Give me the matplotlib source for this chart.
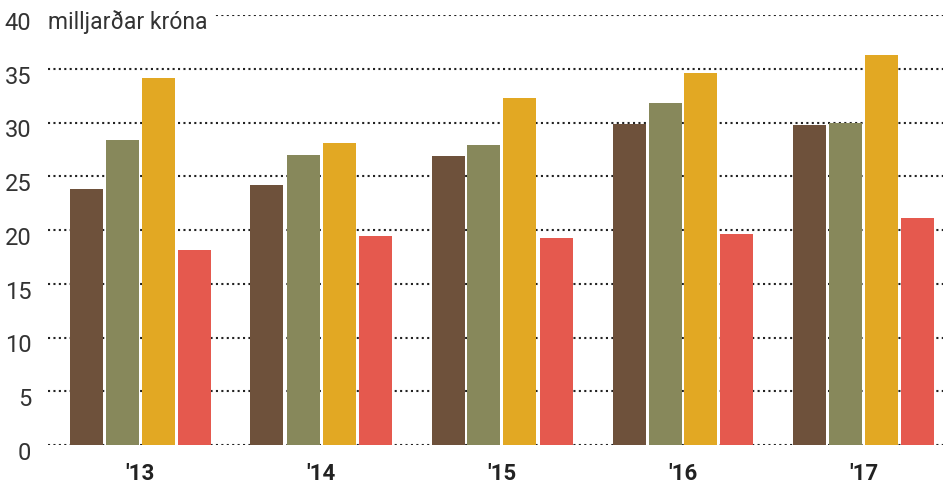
import matplotlib.pyplot as plt
import numpy as np
from matplotlib.transforms import ScaledTranslation

plt.rcParams["font.family"] = ["Roboto", "DejaVu Sans"]

years = ["'13", "'14", "'15", "'16", "'17"]
series_a = [23.8, 24.2, 26.9, 29.9, 29.8]  # brown
series_b = [28.4, 27.0, 27.95, 31.8, 30.0]  # olive
series_c = [34.1, 28.05, 32.3, 34.6, 36.3]  # gold
series_d = [18.1, 19.4, 19.3, 19.6, 21.1]  # red
colors = ["#6E513B", "#87885B", "#E2A823", "#E5594E"]

fig = plt.figure(figsize=(9.43, 4.85), dpi=100)
ax = fig.add_axes([48 / 943, 39 / 485, 895 / 943, 430 / 485])

x = np.arange(len(years))
step = 36 / 181
width = 33 / 181
for i, (vals, c) in enumerate(zip([series_a, series_b, series_c, series_d], colors)):
    ax.bar(x + (i - 1.5) * step, vals, width, color=c, zorder=2)

ax.set_ylim(0, 40)
ax.set_xlim(-92 / 181, 803 / 181)
ax.set_yticks(range(0, 41, 5))
ax.set_yticklabels([str(v) for v in range(0, 41, 5)], fontsize=17, color="#333333")
ax.set_xticks(x)
ax.set_xticklabels(years, fontsize=16, fontweight="bold", color="#222222")
ax.tick_params(axis="both", length=0)
ax.tick_params(axis="y", pad=12)
ax.tick_params(axis="x", pad=12)
for lbl in ax.get_yticklabels():
    lbl.set_transform(lbl.get_transform() + ScaledTranslation(0, -5 / 100, fig.dpi_scale_trans))

ax.yaxis.grid(True, linestyle=(0, (1, 1.6)), linewidth=1.5, color="#222222", zorder=1)
ax.set_axisbelow(True)
for s in ax.spines.values():
    s.set_visible(False)

ax.text(0.0, 40, "milljarðar króna", transform=ax.get_yaxis_transform(),
        fontsize=16.5, color="#333333", ha="left", va="center",
        bbox=dict(facecolor="white", edgecolor="none", pad=4), zorder=3)
ax.texts[-1].set_transform(ax.get_yaxis_transform() + ScaledTranslation(0, -6 / 100, fig.dpi_scale_trans))

fig.savefig("out.png", dpi=100)
